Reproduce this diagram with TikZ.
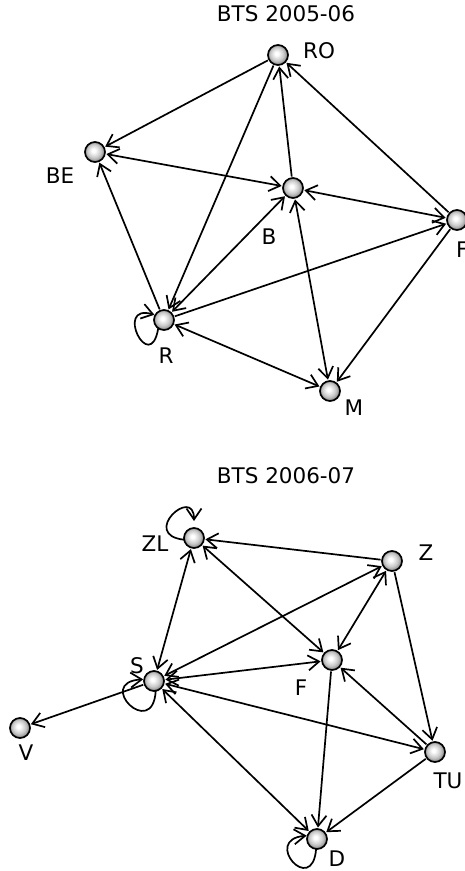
\documentclass[tikz,border=0pt]{standalone}
\usepackage{fontspec}
\setmainfont{DejaVu Sans}
\usetikzlibrary{arrows.meta}
% glossy vertex fill, highlight slightly up and to the left
\pgfdeclareradialshading{vball}{\pgfpoint{-4bp}{4bp}}{%
  color(0bp)=(white); color(4bp)=(white); color(17bp)=(black!22); color(25bp)=(black!45); color(50bp)=(black!45)}
\begin{document}
\begin{tikzpicture}[x=1pt,y=-1pt,
  vert/.style={circle,draw=black,line width=1.7pt,minimum size=20pt,inner sep=0pt,outer sep=0pt,
    shading=vball},
  lbl/.style={inner sep=0pt,font=\fontsize{21.5}{25}\selectfont},
  ttl/.style={inner sep=0pt,font=\fontsize{21.5}{25}\selectfont},
  tip/.tip={Straight Barb[length=11pt,width=15pt,line width=1.7pt]},
  lnk/.style={line width=1.7pt,shorten >=1.5pt,shorten <=1.5pt},
  one/.style={lnk,-tip},
  two/.style={lnk,tip-tip},
  selfloop/.style={line width=1.7pt,-tip,shorten >=1pt}]
\useasboundingbox (0,0) rectangle (464,871);

% ---- season 2005-06 ----
\node[ttl] (t1) at (286,14) {BTS 2005-06};
\node[vert] (RO) at (278,55) {};
\node[vert] (BE) at (95,152) {};
\node[vert] (B)  at (293,188) {};
\node[vert] (F1) at (457,220) {};
\node[vert] (R)  at (164,320) {};
\node[vert] (M)  at (330,391) {};

\node[lbl] (lRO) at (319,51) {RO};
\node[lbl] (lBE) at (60,176) {BE};
\node[lbl] (lB)  at (269,237) {B};
\node[lbl,anchor=west] (lF1) at (456,250) {F};
\node[lbl] (lR)  at (166,356) {R};
\node[lbl] (lM)  at (354,408) {M};

\draw[one] (RO) -- (BE);
\draw[one] (RO) -- (R);
\draw[one] (B)  -- (RO);
\draw[one] (F1) -- (RO);
\draw[two] (BE) -- (B);
\draw[one] (R)  -- (BE);
\draw[two] (B)  -- (F1);
\draw[two] (B)  -- (R);
\draw[two] (B)  -- (M);
\draw[one] (R)  -- (F1);
\draw[one] (F1) -- (M);
\draw[two] (R)  -- (M);
\draw[selfloop] (R.235) .. controls +(-8,48) and +(-42,-12) .. (R.150);

% ---- season 2006-07 ----
\node[ttl] (t2) at (286,476) {BTS 2006-07};
\node[vert] (ZL) at (194,538) {};
\node[vert] (Z)  at (392,561) {};
\node[vert] (F2) at (332,660) {};
\node[vert] (S)  at (154,681) {};
\node[vert] (V)  at (20,728) {};
\node[vert] (TU) at (435,752) {};
\node[vert] (D)  at (317,839) {};

\node[lbl] (lZL) at (155,544) {ZL};
\node[lbl] (lZ)  at (426,553) {Z};
\node[lbl] (lF2) at (301,688) {F};
\node[lbl] (lS)  at (137,666) {S};
\node[lbl] (lV)  at (26,753) {V};
\node[lbl] (lTU) at (448,781) {TU};
\node[lbl] (lD)  at (337,859) {D};

\draw[one] (Z)  -- (ZL);
\draw[two] (ZL) -- (S);
\draw[two] (ZL) -- (F2);
\draw[two] (Z)  -- (S);
\draw[two] (Z)  -- (F2);
\draw[one] (Z)  -- (TU);
\draw[two] (S)  -- (F2);
\draw[one] (S)  -- (V);
\draw[two] (S)  -- (TU);
\draw[two] (S)  -- (D);
\draw[one] (F2) -- (D);
\draw[one] (TU) -- (F2);
\draw[one] (TU) -- (D);
\draw[selfloop,shorten >=7pt] (ZL.190) .. controls +(-45,-5) and +(0,-43) .. (ZL.90);
\draw[selfloop] (S.280) .. controls +(-3,50) and +(-50,3) .. (S.170);
\draw[selfloop] (D.265) .. controls +(-4,48) and +(-46,4) .. (D.160);
\end{tikzpicture}
\end{document}
